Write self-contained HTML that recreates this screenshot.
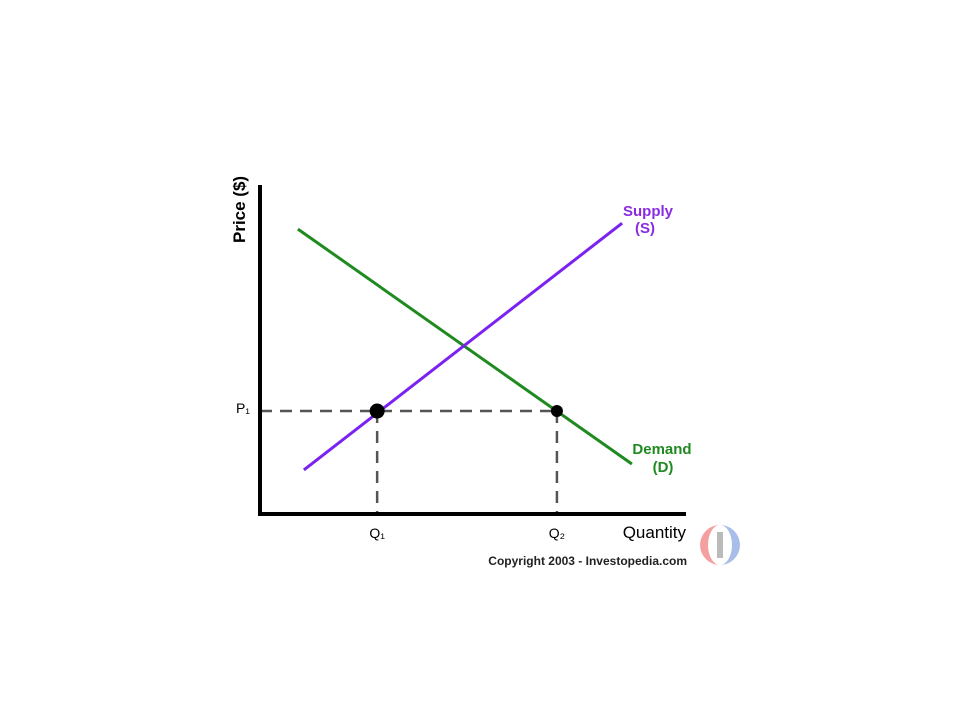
<!DOCTYPE html>
<html><head><meta charset="utf-8"><style>
html,body{margin:0;padding:0;background:#fff;}
svg{display:block;font-family:"Liberation Sans","DejaVu Sans",sans-serif;}
</style></head><body>
<svg id="chart" width="960" height="720" viewBox="0 0 960 720">
<g id="marks"></g>
<line x1="260" y1="185" x2="260" y2="516" stroke="#000" stroke-width="4"/>
<line x1="258" y1="514" x2="686" y2="514" stroke="#000" stroke-width="4"/>
<text transform="translate(245,243) rotate(-90)" font-size="17" font-weight="bold" fill="#000">Price ($)</text>
<text x="686" y="538" font-size="17" text-anchor="end" fill="#000">Quantity</text>
<text x="648" y="216" font-size="15" font-weight="bold" fill="#8a2be2" text-anchor="middle">Supply</text>
<text x="645" y="233" font-size="15" font-weight="bold" fill="#8a2be2" text-anchor="middle">(S)</text>
<text x="662" y="454" font-size="15" font-weight="bold" fill="#1f8a1f" text-anchor="middle">Demand</text>
<text x="663" y="472" font-size="15" font-weight="bold" fill="#1f8a1f" text-anchor="middle">(D)</text>
<text x="687" y="565" font-size="12" font-weight="bold" fill="#222" text-anchor="end">Copyright 2003 - Investopedia.com</text>
<g>
<path d="M720,525 A20,20 0 0 0 720,565 A12,20 0 0 1 720,525Z" fill="#f4a0a0"/>
<path d="M720,525 A20,20 0 0 1 720,565 A12,20 0 0 0 720,525Z" fill="#a8bde8"/>
<rect x="717" y="532" width="6" height="26" fill="#bbb"/>
</g>
</svg>
<script>
const quantities=[10.3,85];
const supplyPrices=[13.4,88.4];
const demandQuantities=[8.9,87.3];
const demandPrices=[86.6,15.2];
const priceP1=31.3;
const qtyPoints=[27.5,69.7];
const priceLabels=["P₁"];
const qtyLabels=["Q₁","Q₂"];
const x=q=>260+q*4.26, y=p=>514-p*3.29;
const NS="http://www.w3.org/2000/svg";
const g=document.getElementById('marks');
function mk(t,a){const e=document.createElementNS(NS,t);for(const k in a)e.setAttribute(k,a[k]);g.appendChild(e);return e;}
let e;
e=mk('line',{x1:x(0),y1:y(priceP1),x2:x(qtyPoints[1]),y2:y(priceP1),stroke:'#555','stroke-width':2.5,'stroke-dasharray':'12,8'});


qtyPoints.forEach((q,i)=>{
 e=mk('line',{x1:x(q),y1:y(priceP1),x2:x(q),y2:y(0),stroke:'#555','stroke-width':2.5,'stroke-dasharray':'12,8'});
 
 
});
e=mk('line',{x1:x(demandQuantities[0]),y1:y(demandPrices[0]),x2:x(demandQuantities[1]),y2:y(demandPrices[1]),stroke:'#1f8a1f','stroke-width':3});


e=mk('line',{x1:x(quantities[0]),y1:y(supplyPrices[0]),x2:x(quantities[1]),y2:y(supplyPrices[1]),stroke:'#7b22f0','stroke-width':3});


qtyPoints.forEach((q,i)=>{
 e=mk('circle',{cx:x(q),cy:y(priceP1),r:i?6:7.5,fill:'#000'});
 
 
 e=mk('text',{x:x(q),y:y(0)+24,'font-size':14,'text-anchor':'middle',fill:'#000'});
 e.textContent=qtyLabels[i];
 
 
});
e=mk('text',{x:243,y:y(priceP1)+2,'font-size':14,'text-anchor':'middle',fill:'#000'});
e.textContent=priceLabels[0];


</script>
</body></html>
